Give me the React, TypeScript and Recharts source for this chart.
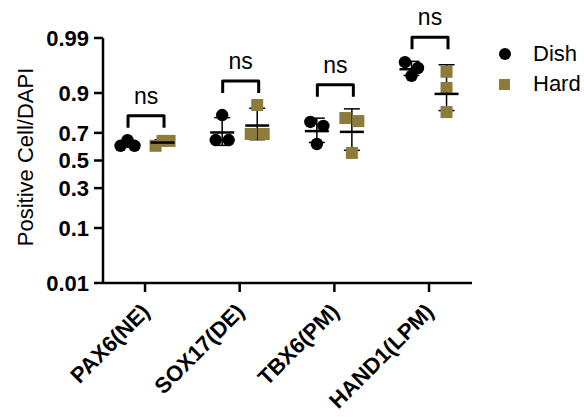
import React from "react";
import { ErrorBar, Scatter, ScatterChart, XAxis, YAxis } from "recharts";

const categories = ["PAX6(NE)", "SOX17(DE)", "TBX6(PM)", "HAND1(LPM)"];
const dishValues = [
  [0.61, 0.65, 0.61],
  [0.806, 0.651, 0.651],
  [0.768, 0.744, 0.623],
  [0.969, 0.9605, 0.946],
];
const hardValues = [
  [0.61, 0.645, 0.645],
  [0.854, 0.693, 0.693],
  [0.79, 0.773, 0.557],
  [0.954, 0.916, 0.821],
];
const significance = ["ns", "ns", "ns", "ns"];
const yTicks = [0.01, 0.1, 0.3, 0.5, 0.7, 0.9, 0.99];

const FONT = "'Liberation Sans', Arial, sans-serif";
const DISH_COLOR = "#000000";
const HARD_COLOR = "#8c7c3b";
const GROUP_OFFSET = 0.185;

// inverse normal CDF (Acklam) - the y axis is a probability (probit) scale
function probit(p: number): number {
  const a = [-39.69683028665376, 220.9460984245205, -275.9285104469687, 138.357751867269, -30.66479806614716, 2.506628277459239];
  const b = [-54.47609879822406, 161.5858368580409, -155.6989798598866, 66.80131188771972, -13.28068155288572];
  const c = [-0.007784894002430293, -0.3223964580411365, -2.400758277161838, -2.549732539343734, 4.374664141464968, 2.938163982698783];
  const d = [0.007784695709041462, 0.3224671290700398, 2.445134137142996, 3.754408661907416];
  const pl = 0.02425;
  if (p < pl) {
    const q = Math.sqrt(-2 * Math.log(p));
    return (((((c[0] * q + c[1]) * q + c[2]) * q + c[3]) * q + c[4]) * q + c[5]) /
      ((((d[0] * q + d[1]) * q + d[2]) * q + d[3]) * q + 1);
  }
  if (p <= 1 - pl) {
    const q = p - 0.5;
    const r = q * q;
    return ((((((a[0] * r + a[1]) * r + a[2]) * r + a[3]) * r + a[4]) * r + a[5]) * q) /
      (((((b[0] * r + b[1]) * r + b[2]) * r + b[3]) * r + b[4]) * r + 1);
  }
  const q = Math.sqrt(-2 * Math.log(1 - p));
  return -(((((c[0] * q + c[1]) * q + c[2]) * q + c[3]) * q + c[4]) * q + c[5]) /
    ((((d[0] * q + d[1]) * q + d[2]) * q + d[3]) * q + 1);
}

const mean = (v: number[]) => v.reduce((s, x) => s + x, 0) / v.length;
const sd = (v: number[]) => {
  const m = mean(v);
  return Math.sqrt(v.reduce((s, x) => s + (x - m) ** 2, 0) / (v.length - 1));
};

// spread overlapping replicates sideways, like a column scatter
function jitterFor(values: number[], j: number) {
  const z = values.map(probit);
  const near = z.map((zz, k) => k).filter((k) => Math.abs(z[k] - z[j]) < 0.13);
  const rank = near.indexOf(j);
  if (near.length === 2) return rank === 0 ? -6.5 : 6.5;
  if (near.length >= 3) return (rank - (near.length - 1) / 2) * 7;
  return 0;
}

const pointRows = (groups: number[][], side: number) =>
  groups.flatMap((vals, i) =>
    vals.map((v, j) => ({ x: i + 1 + side * GROUP_OFFSET, z: probit(v), jitter: jitterFor(vals, j) })),
  );

const meanRows = (groups: number[][], side: number) =>
  groups.map((vals, i) => {
    const m = mean(vals);
    const s = sd(vals);
    const zm = probit(m);
    return { x: i + 1 + side * GROUP_OFFSET, z: zm, err: [zm - probit(m - s), probit(m + s) - zm] };
  });

const dishPoints = pointRows(dishValues, -1);
const hardPoints = pointRows(hardValues, 1);
const dishMeans = meanRows(dishValues, -1);
const hardMeans = meanRows(hardValues, 1);

const bracketRows = categories.map((_, i) => {
  const tops = [dishValues[i], hardValues[i]].flatMap((v) => [...v, mean(v) + sd(v)]);
  return { x: i + 1, z: probit(Math.max(...tops)), label: significance[i] };
});

const zTicks = yTicks.map(probit);

const DishDot = (props: any) => {
  const { cx, cy, payload } = props;
  return <circle cx={cx + payload.jitter} cy={cy} r={6.2} fill={DISH_COLOR} />;
};

const HardDot = (props: any) => {
  const { cx, cy, payload } = props;
  return <rect x={cx + payload.jitter - 6} y={cy - 6} width={12} height={12} fill={HARD_COLOR} />;
};

const MeanLine = (props: any) => {
  const { cx, cy } = props;
  return <line x1={cx - 12} x2={cx + 12} y1={cy} y2={cy} stroke="#000" strokeWidth={2.5} />;
};

const Bracket = (props: any) => {
  const { cx, cy, payload } = props;
  const top = cy - 24;
  return (
    <g>
      <path
        d={`M${cx - 17},${top + 12} V${top} H${cx + 19} V${top + 12}`}
        fill="none"
        stroke="#000"
        strokeWidth={3}
        strokeLinejoin="round"
      />
      <text x={cx + 1} y={top - 12} textAnchor="middle" fontSize={23} fontFamily={FONT} fill="#000">
        {payload.label}
      </text>
    </g>
  );
};

const CategoryTick = (props: any) => {
  const { x, y, payload } = props;
  const ax = x + 6;
  const ay = y + 19;
  return (
    <text
      x={ax}
      y={ay}
      transform={`rotate(-45, ${ax}, ${ay})`}
      textAnchor="end"
      fontSize={22}
      fontWeight="bold"
      fontFamily={FONT}
      fill="#000"
    >
      {categories[payload.value - 1]}
    </text>
  );
};

const YLabel = () => (
  <text
    x={33}
    y={157}
    transform="rotate(-90, 33, 157)"
    textAnchor="middle"
    fontSize={22}
    fontFamily={FONT}
    fill="#000"
  >
    Positive Cell/DAPI
  </text>
);

export default function App() {
  return (
    <div style={{ position: "absolute", left: 0, top: 0, width: 584, height: 419, background: "#fff" }}>
      <ScatterChart width={584} height={419} margin={{ top: 38, right: 112, bottom: 0, left: 0 }}>
        <XAxis
          type="number"
          dataKey="x"
          domain={[0.556, 4.454]}
          ticks={[1, 2, 3, 4]}
          height={136}
          stroke="#000"
          strokeWidth={2.5}
          tickSize={9}
          tick={<CategoryTick />}
          interval={0}
        />
        <YAxis
          type="number"
          dataKey="z"
          domain={[zTicks[0], zTicks[zTicks.length - 1]]}
          ticks={zTicks}
          width={103}
          stroke="#000"
          strokeWidth={2.5}
          tickSize={9}
          tickMargin={5}
          interval={0}
          tickFormatter={(_v: number, i: number) => String(yTicks[i])}
          tick={{ fill: "#000", fontSize: 22, fontWeight: "bold", fontFamily: FONT }}
          label={<YLabel />}
        />
        <Scatter name="Dish" data={dishPoints} shape={<DishDot />} isAnimationActive={false} />
        <Scatter name="Hard" data={hardPoints} shape={<HardDot />} isAnimationActive={false} />
        <Scatter data={dishMeans} shape={<MeanLine />} isAnimationActive={false}>
          <ErrorBar dataKey="err" direction="y" width={8} stroke="#000" strokeWidth={1.5} />
        </Scatter>
        <Scatter data={hardMeans} shape={<MeanLine />} isAnimationActive={false}>
          <ErrorBar dataKey="err" direction="y" width={8} stroke="#000" strokeWidth={1.5} />
        </Scatter>
        <Scatter data={bracketRows} shape={<Bracket />} isAnimationActive={false} />
      </ScatterChart>
      <div style={{ position: "absolute", left: 499, top: 39, fontFamily: FONT, fontSize: 22, color: "#000" }}>
        <div style={{ display: "flex", alignItems: "center", height: 30 }}>
          <span style={{ width: 12, height: 12, borderRadius: 6, background: DISH_COLOR, display: "inline-block" }} />
          <span style={{ marginLeft: 22 }}>Dish</span>
        </div>
        <div style={{ display: "flex", alignItems: "center", height: 30 }}>
          <span style={{ width: 11, height: 11, background: HARD_COLOR, display: "inline-block" }} />
          <span style={{ marginLeft: 23 }}>Hard</span>
        </div>
      </div>
    </div>
  );
}
